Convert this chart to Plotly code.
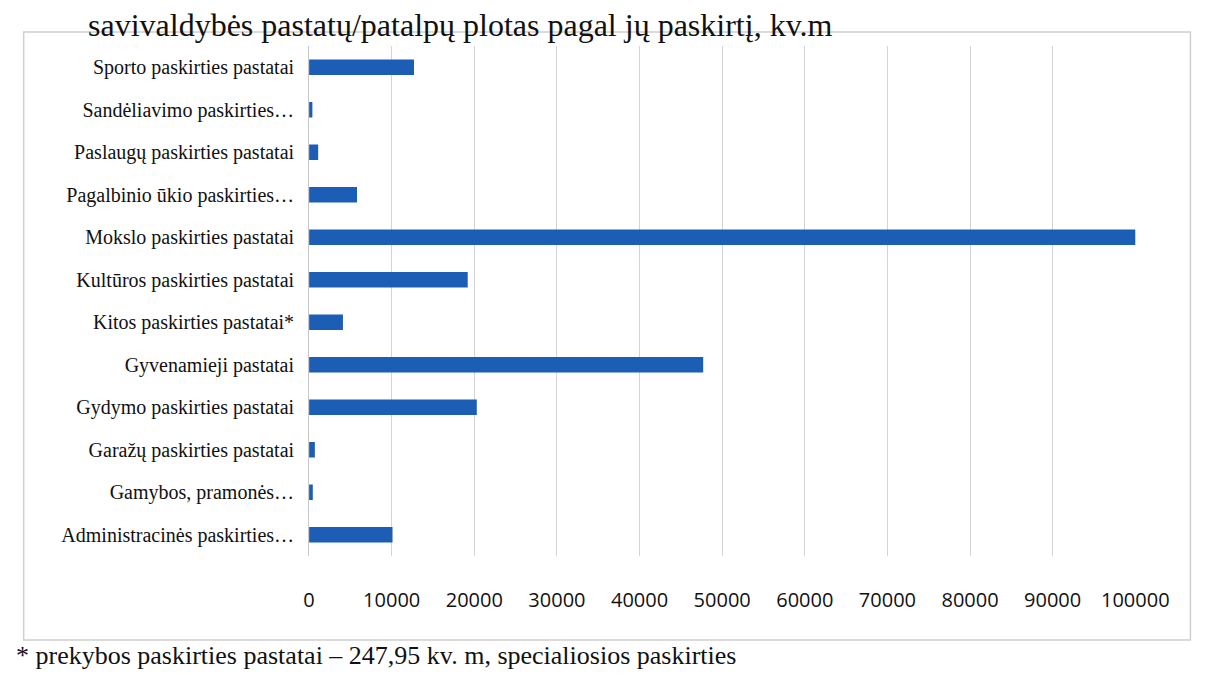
import plotly.graph_objects as go

categories = [
    "Administracinės paskirties…",
    "Gamybos, pramonės…",
    "Garažų paskirties pastatai",
    "Gydymo paskirties pastatai",
    "Gyvenamieji pastatai",
    "Kitos paskirties pastatai*",
    "Kultūros paskirties pastatai",
    "Mokslo paskirties pastatai",
    "Pagalbinio ūkio paskirties…",
    "Paslaugų paskirties pastatai",
    "Sandėliavimo paskirties…",
    "Sporto paskirties pastatai",
]
values = [10100, 450, 700, 20300, 47700, 4100, 19200, 100300, 5800, 1100, 400, 12700]
tick_vals = [0, 10000, 20000, 30000, 40000, 50000, 60000, 70000, 80000, 90000, 100000]
tick_text = [str(v) for v in tick_vals]

title_text = "savivaldybės pastatų/patalpų plotas pagal jų paskirtį, kv.m"
footnote_text = "* prekybos paskirties pastatai – 247,95 kv. m, specialiosios paskirties"

W, H = 1229, 675

fig = go.Figure()
fig.add_trace(go.Bar(
    y=categories,
    x=values,
    orientation="h",
    marker=dict(color="#1c5db5", line=dict(width=0)),
    hoverinfo="x+y",
))

fig.update_layout(
    width=W, height=H,
    margin=dict(l=0, r=0, t=0, b=0),
    paper_bgcolor="white",
    plot_bgcolor="white",
    bargap=0.64,
    showlegend=False,
    xaxis=dict(
        domain=[305 / W, 1159 / W],
        range=[0, 100000],
        tickvals=tick_vals,
        ticktext=tick_text,
        showgrid=True,
        gridcolor="#d4d4d4",
        gridwidth=1,
        zeroline=False,
        showline=False,
        ticks="",
        tickfont=dict(family="Open Sans", size=20, color="#111111"),
        ticklabelstandoff=30,
        fixedrange=True,
    ),
    yaxis=dict(
        domain=[1 - 548 / H, 1 - 38 / H],
        showgrid=False,
        showline=True,
        linecolor="#c8c8c8",
        linewidth=1,
        ticks="",
        tickfont=dict(family="Liberation Serif", size=20, color="#111111"),
        ticklabelstandoff=10,
        fixedrange=True,
    ),
    shapes=[
        dict(type="rect", xref="paper", yref="paper",
             x0=10 / W, x1=1216 / W, y0=1 - 632 / H, y1=1 - 24 / H,
             line=dict(color="#cfcfcf", width=1.5), fillcolor="rgba(0,0,0,0)",
             layer="below"),
    ],
    annotations=[
        dict(text=title_text, xref="paper", yref="paper",
             x=74 / W, y=1 - 17 / H, xanchor="left", yanchor="middle",
             showarrow=False,
             font=dict(family="Liberation Serif", size=32, color="#111111")),
        dict(text=footnote_text, xref="paper", yref="paper",
             x=0, y=1 - 647 / H, xanchor="left", yanchor="middle",
             showarrow=False,
             font=dict(family="Liberation Serif", size=26, color="#111111")),
    ],
)

fig.write_html("out.html")
